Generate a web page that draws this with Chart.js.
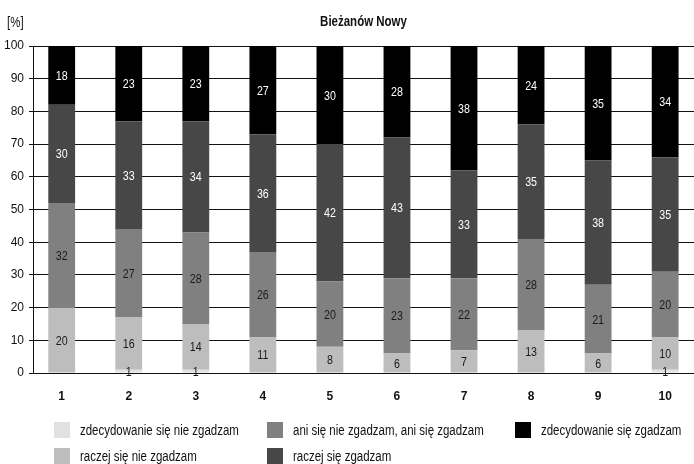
<!DOCTYPE html>
<html>
<head>
<meta charset="utf-8">
<script src="https://cdn.jsdelivr.net/npm/chart.js@4/dist/chart.umd.min.js"></script>
<style>
  html, body { margin: 0; padding: 0; background: #fff; }
  #wrap { width: 694px; height: 464px; position: relative; }
</style>
</head>
<body>
<div id="wrap"><canvas id="c" width="694" height="464"></canvas></div>
<script>
// Survey answers per question (percent), district Bieżanów Nowy
const categories = ['1', '2', '3', '4', '5', '6', '7', '8', '9', '10'];
const seriesNames = [
  'zdecydowanie się nie zgadzam',
  'raczej się nie zgadzam',
  'ani się nie zgadzam, ani się zgadzam',
  'raczej się zgadzam',
  'zdecydowanie się zgadzam'
];
const stronglyDisagree = [0, 1, 1, 0, 0, 0, 0, 0, 0, 1];
const ratherDisagree   = [20, 16, 14, 11, 8, 6, 7, 13, 6, 10];
const neutral          = [32, 27, 28, 26, 20, 23, 22, 28, 21, 20];
const ratherAgree      = [30, 33, 34, 36, 42, 43, 33, 35, 38, 35];
const stronglyAgree    = [18, 23, 23, 27, 30, 28, 38, 24, 35, 34];
const yTicks = [0, 10, 20, 30, 40, 50, 60, 70, 80, 90, 100];

const seriesValues = [stronglyDisagree, ratherDisagree, neutral, ratherAgree, stronglyAgree];
const seriesColors = ['#e1e1e1', '#bdbdbd', '#808080', '#474747', '#000000'];
const labelColors  = ['#1a1a1a', '#1a1a1a', '#1a1a1a', '#ffffff', '#ffffff'];

const FONT = "'Liberation Sans', Arial, sans-serif";
const NARROW = 0.82; // horizontal squeeze for a narrow face

const datasets = seriesNames.map((name, s) => ({
  label: name,
  data: seriesValues[s].map((v, i) => ({ x: Number(categories[i]), y: v })),
  backgroundColor: seriesColors[s],
  borderWidth: 0,
  barPercentage: 0.4,
  categoryPercentage: 1.0
}));

// draw text squeezed horizontally
function narrowText(ctx, text, x, y, align) {
  ctx.save();
  ctx.translate(x, y);
  ctx.scale(NARROW, 1);
  ctx.textAlign = align;
  ctx.fillText(text, 0, 0);
  ctx.restore();
}

// value labels centred in each segment
const valueLabels = {
  id: 'valueLabels',
  afterDatasetsDraw(chart) {
    const ctx = chart.ctx;
    ctx.save();
    ctx.font = '13px ' + FONT;
    ctx.textBaseline = 'middle';
    chart.data.datasets.forEach((ds, s) => {
      const meta = chart.getDatasetMeta(s);
      meta.data.forEach((bar, i) => {
        const v = ds.data[i].y;
        if (!v) return;
        const p = bar.getProps(['x', 'y', 'base'], true);
        ctx.fillStyle = labelColors[s];
        narrowText(ctx, String(v), p.x, (p.y + p.base) / 2 + 1, 'center');
      });
    });
    ctx.restore();
  }
};

// title over the plot, unit label, and a three-column legend
const decorations = {
  id: 'decorations',
  afterDraw(chart) {
    const ctx = chart.ctx;
    const area = chart.chartArea;
    ctx.save();
    ctx.fillStyle = '#111';
    ctx.textBaseline = 'middle';
    ctx.font = 'bold 14px ' + FONT;
    narrowText(ctx, 'Bieżanów Nowy', (area.left + area.right) / 2, 22, 'center');
    ctx.font = '14px ' + FONT;
    narrowText(ctx, '[%]', 7, 23, 'left');

    const colX = [54, 267, 515];
    const rowY = [430, 456];
    ctx.font = '14px ' + FONT;
    chart.data.datasets.forEach((ds, s) => {
      const col = Math.floor(s / 2);
      const row = s % 2;
      const bx = colX[col];
      const cy = rowY[row];
      ctx.fillStyle = ds.backgroundColor;
      ctx.fillRect(bx, cy - 8, 16, 16);
      ctx.fillStyle = '#111';
      narrowText(ctx, ds.label, bx + 26, cy + 1, 'left');
    });
    ctx.restore();
  }
};

new Chart(document.getElementById('c'), {
  type: 'bar',
  data: { datasets },
  options: {
    responsive: false,
    animation: false,
    layout: { padding: { top: 46, right: 0, bottom: 0, left: 0 } },
    plugins: {
      legend: { display: false },
      title: { display: false },
      tooltip: { enabled: false }
    },
    scales: {
      x: {
        type: 'linear',
        stacked: true,
        offset: false,
        min: 0.572,
        max: 10.43,
        afterFit(scale) { scale.height = 91; },
        grid: { display: false, drawTicks: false, offset: false },
        border: { display: false },
        ticks: {
          stepSize: 1,
          includeBounds: false,
          autoSkip: false,
          maxRotation: 0,
          padding: 16,
          color: '#111',
          font: { family: FONT, size: 12, weight: 'bold' },
          callback: (v) => categories[v - 1]
        }
      },
      y: {
        stacked: true,
        min: 0,
        max: 100,
        afterFit(scale) { scale.width = 33; },
        afterBuildTicks(scale) { scale.ticks = yTicks.map(v => ({ value: v })); },
        grid: { color: '#111', lineWidth: 1, tickLength: 4, drawTicks: true },
        border: { display: true, color: '#111', width: 1 },
        ticks: {
          padding: 5,
          color: '#111',
          font: { family: FONT, size: 12 }
        }
      }
    }
  },
  plugins: [valueLabels, decorations]
});
</script>
</body>
</html>
